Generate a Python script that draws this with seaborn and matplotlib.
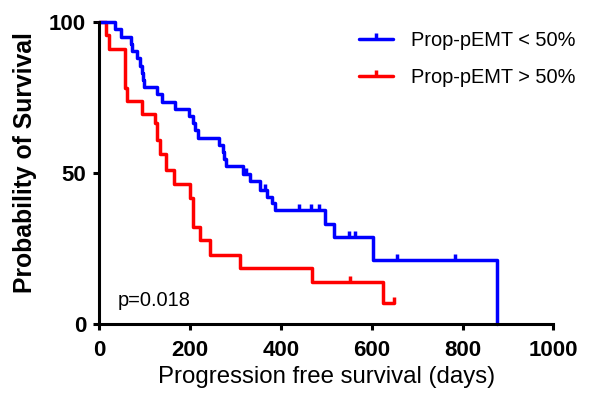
import numpy as np
import pandas as pd
import matplotlib
matplotlib.use("Agg")
import matplotlib.pyplot as plt
import seaborn as sns
from matplotlib.lines import Line2D
from matplotlib.markers import TICKUP

# ---- data ----
blue_label = "Prop-pEMT < 50%"
red_label = "Prop-pEMT > 50%"

blue_t = [0, 35, 47, 69, 73, 84, 89, 94, 96, 99, 127, 138, 167, 198, 207, 211, 218,
          264, 272, 275, 279, 317, 333, 354, 370, 380, 387, 498, 516, 603, 877]
blue_s = [100, 97.6, 95.1, 92.7, 90.4, 88.0, 85.6, 83.2, 80.9, 78.6, 76.2, 73.7, 71.4,
          69.1, 66.7, 64.3, 61.8, 59.5, 57.1, 54.8, 52.4, 49.8, 47.3, 44.6, 42.3, 40.2,
          38.0, 33.2, 29.0, 21.4, 0]
blue_cens = [323, 365, 440, 467, 485, 551, 563, 656, 784]

red_t = [0, 15, 21, 56, 57.5, 60, 93, 122, 127, 134, 147, 164, 199, 206, 221, 243,
         309, 468, 624, 650]
red_s = [100, 95.8, 91.2, 87.0, 78.2, 74.0, 69.7, 66.5, 61.0, 56.3, 51.2, 46.6, 41.8,
         32.3, 28.0, 23.0, 18.6, 14.0, 7.1, 7.1]
red_cens = [553, 650]

x_ticks = [0, 200, 400, 600, 800, 1000]
y_ticks = [0, 50, 100]
p_text = "p=0.018"

BLUE = "#0000FF"
RED = "#FF0000"

sns.set_style("ticks")
plt.rcParams["font.family"] = ["Liberation Sans", "DejaVu Sans"]
plt.rcParams["text.color"] = "black"
plt.rcParams["axes.labelcolor"] = "black"
plt.rcParams["xtick.color"] = "black"
plt.rcParams["ytick.color"] = "black"
plt.rcParams["xtick.labelcolor"] = "black"
plt.rcParams["ytick.labelcolor"] = "black"

W, H = 589, 394
fig = plt.figure(figsize=(W / 100, H / 100), dpi=100)
L, R, T, B = 99.3, 553.3, 22.2, 324.3
ax = fig.add_axes([L / W, 1 - B / H, (R - L) / W, (B - T) / H])

df = pd.concat([
    pd.DataFrame({"t": red_t, "s": red_s, "g": red_label}),
    pd.DataFrame({"t": blue_t, "s": blue_s, "g": blue_label}),
], ignore_index=True)

LW = 2.5
sns.lineplot(data=df, x="t", y="s", hue="g", palette={blue_label: BLUE, red_label: RED},
             hue_order=[red_label, blue_label], estimator=None, sort=False,
             drawstyle="steps-post", linewidth=LW, legend=False, ax=ax, clip_on=False)


def surv_at(ts, ss, c):
    idx = np.searchsorted(np.asarray(ts), c, side="right") - 1
    return np.asarray(ss)[idx]


for ts, ss, cs, col in [(red_t, red_s, red_cens, RED), (blue_t, blue_s, blue_cens, BLUE)]:
    ax.plot(cs, surv_at(ts, ss, cs), linestyle="none", marker=TICKUP, markersize=4.5,
            markeredgewidth=LW, color=col, clip_on=False, zorder=3)

ax.set_xlim(0, 1000)
ax.set_ylim(0, 100)
ax.set_xticks(x_ticks)
ax.set_yticks(y_ticks)
ax.set_xticklabels([str(v) for v in x_ticks], fontsize=16, fontweight="bold")
ax.set_yticklabels([str(v) for v in y_ticks], fontsize=16, fontweight="bold")
ax.tick_params(axis="both", direction="out", length=4.5, width=2.2, color="black", pad=5)
ax.tick_params(axis="x", pad=7)
sns.despine(ax=ax)
for sp in ["left", "bottom"]:
    ax.spines[sp].set_linewidth(2.2)
    ax.spines[sp].set_color("black")
ax.set_xlabel("")
ax.set_ylabel("")

fig.text(25 / W, 1 - 162.5 / H, "Probability of Survival", rotation=90, ha="center",
         va="center", fontsize=17.8, fontweight="bold", color="black")
fig.text(326.3 / W, 1 - 383 / H, "Progression free survival (days)", ha="center",
         va="baseline", fontsize=17.3, color="black")

ax.text(40, 6, p_text, fontsize=14.4, va="baseline", ha="left", color="black")

handles = [Line2D([], [], color=BLUE, lw=LW, marker=TICKUP, markersize=4.5, markeredgewidth=LW),
           Line2D([], [], color=RED, lw=LW, marker=TICKUP, markersize=4.5, markeredgewidth=LW)]
leg = ax.legend(handles, [blue_label, red_label], loc="upper left",
                bbox_to_anchor=(359 / W, 1 - 31 / H), bbox_transform=fig.transFigure,
                frameon=False, fontsize=14.4, handlelength=1.7, handletextpad=0.9,
                labelspacing=0.88, borderpad=0, borderaxespad=0, numpoints=1)
for t in leg.get_texts():
    t.set_color("black")

fig.savefig("out.png", dpi=100)
